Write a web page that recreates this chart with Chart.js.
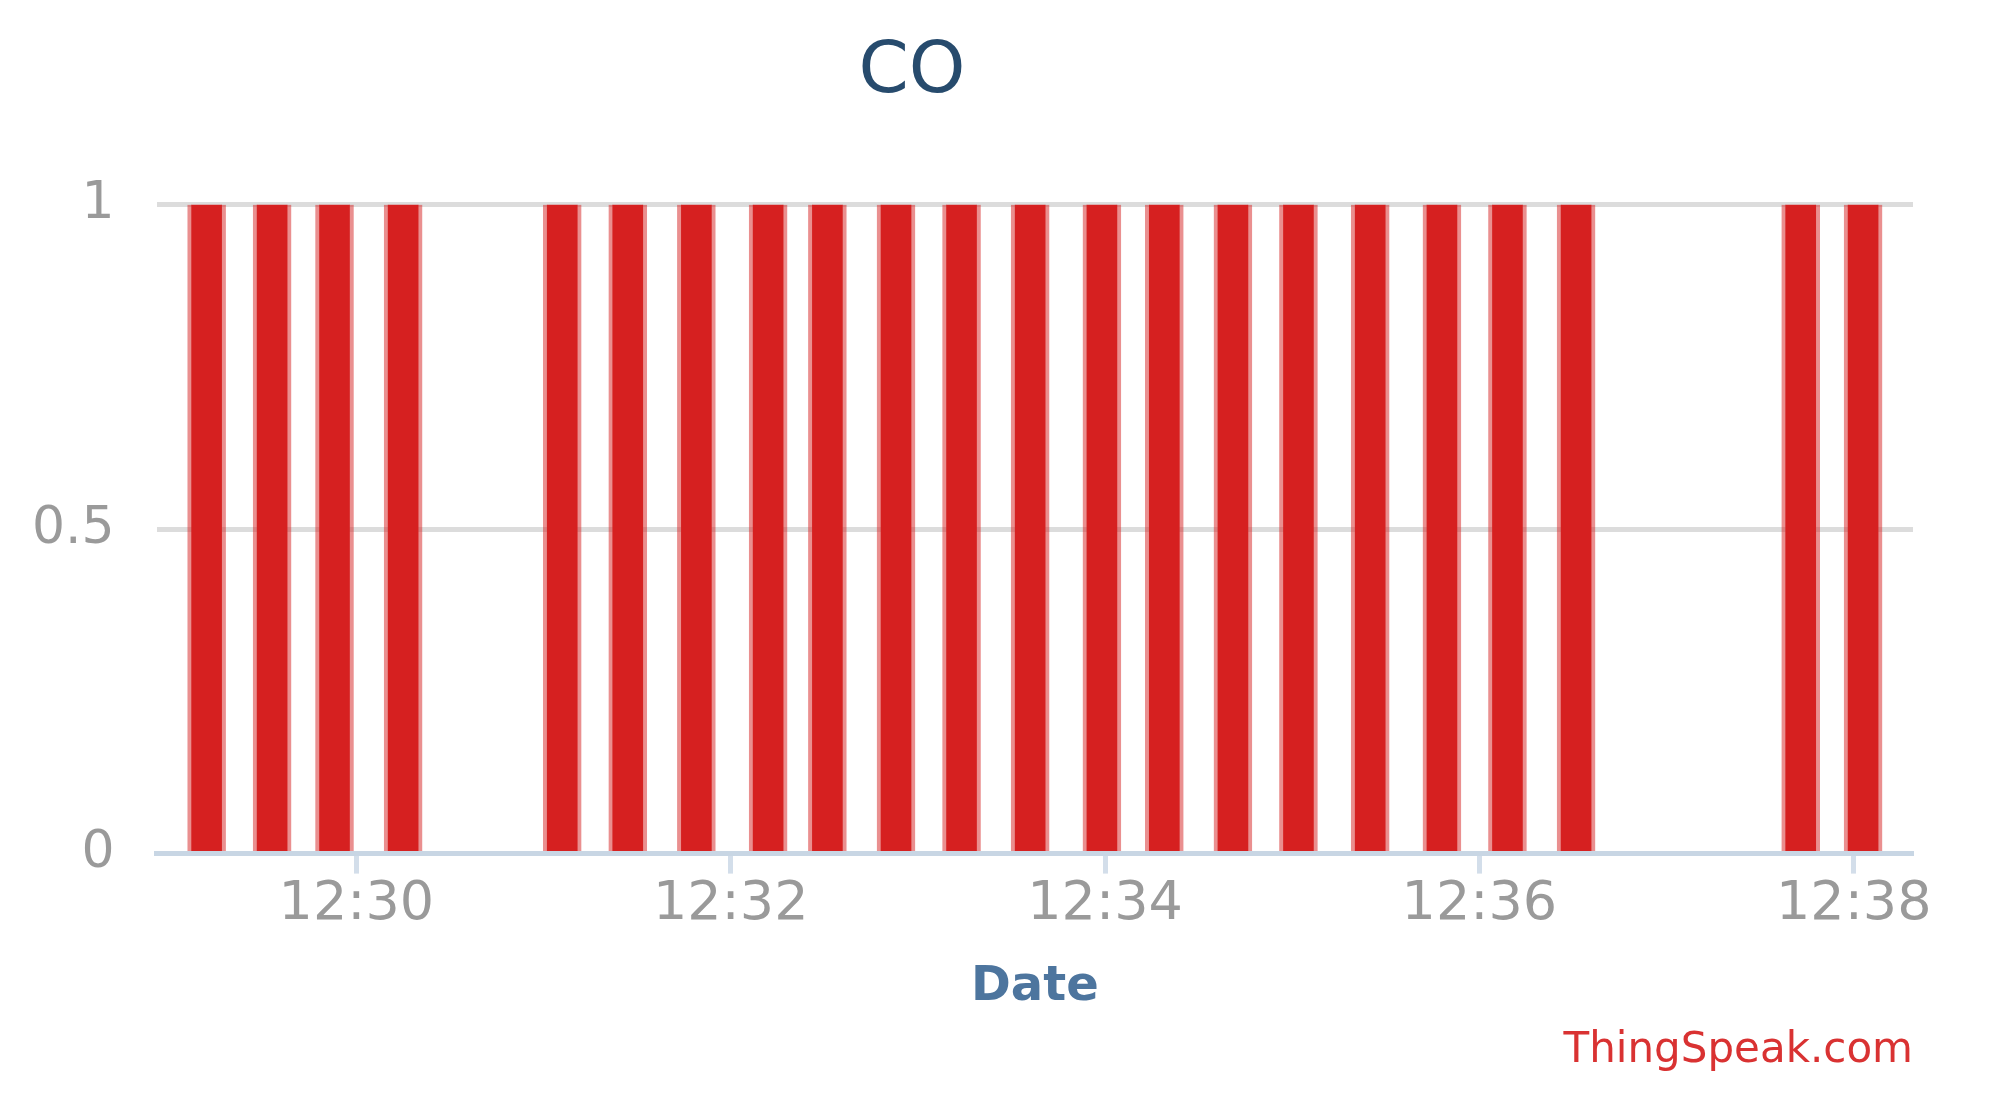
<!DOCTYPE html>
<html>
<head>
<meta charset="utf-8">
<script src="https://cdn.jsdelivr.net/npm/chart.js@4.4.1/dist/chart.umd.min.js"></script>
<style>
  html, body { margin: 0; padding: 0; background: #ffffff; }
  canvas { display: block; }
</style>
</head>
<body>
<canvas id="chart" width="2005" height="1113"></canvas>
<script>
// ---- data ----
const chartTitle = 'CO';
const xAxisTitle = 'Date';
const creditText = 'ThingSpeak.com';
const sampleTimes = [
  '12:29:12', '12:29:33', '12:29:53', '12:30:15',
  '12:31:06', '12:31:27', '12:31:49', '12:32:12', '12:32:31', '12:32:53',
  '12:33:14', '12:33:36', '12:33:59', '12:34:19', '12:34:41', '12:35:02',
  '12:35:25', '12:35:48', '12:36:09', '12:36:31',
  '12:37:43', '12:38:03'
];
const coValues = [
  1, 1, 1, 1,
  1, 1, 1, 1, 1, 1,
  1, 1, 1, 1, 1, 1,
  1, 1, 1, 1,
  1, 1
];
const xTickLabels = ['12:30', '12:32', '12:34', '12:36', '12:38'];
const xRange = ['12:28:56', '12:38:19'];
const yTickValues = [0, 0.5, 1];

// ---- helpers ----
function toSeconds(t) {
  const p = t.split(':').map(Number);
  return p[0] * 3600 + p[1] * 60 + (p[2] || 0);
}
function fmtHM(s) {
  const h = Math.floor(s / 3600);
  const m = Math.floor((s % 3600) / 60);
  return String(h).padStart(2, '0') + ':' + String(m).padStart(2, '0');
}

const points = sampleTimes.map((t, i) => ({ x: toSeconds(t), y: coValues[i] }));
const FONT = "'DejaVu Sans', 'Liberation Sans', sans-serif";

const titleShift = {
  id: 'titleShift',
  afterLayout(chart) {
    const t = chart.titleBlock;
    if (!t) return;
    const w = t.right - t.left;
    const cx = 912;
    t.left = cx - w / 2;
    t.right = cx + w / 2;
  }
};

new Chart(document.getElementById('chart'), {
  type: 'bar',
  data: {
    datasets: [{
      label: chartTitle,
      data: points,
      backgroundColor: '#d62020',
      borderColor: 'rgba(214, 32, 32, 0.5)',
      borderWidth: { left: 4, right: 4, top: 0, bottom: 0 },
      borderSkipped: false,
      barThickness: 38,
      grouped: false
    }]
  },
  plugins: [titleShift],
  options: {
    responsive: false,
    devicePixelRatio: 1,
    animation: false,
    layout: { padding: { top: 30, left: -10, right: 92, bottom: 0 } },
    plugins: {
      legend: { display: false },
      tooltip: { enabled: false },
      title: {
        display: true,
        text: chartTitle,
        color: '#274b6d',
        font: { family: FONT, size: 72, weight: 'normal', lineHeight: 1.2 },
        padding: { top: 0, bottom: 88 }
      },
      subtitle: {
        display: true,
        text: creditText,
        position: 'bottom',
        align: 'end',
        color: '#d93232',
        font: { family: FONT, size: 42, weight: 'normal', lineHeight: 1.2 },
        padding: { top: 0, bottom: 37 }
      }
    },
    scales: {
      x: {
        type: 'linear',
        min: toSeconds(xRange[0]),
        max: toSeconds(xRange[1]),
        offset: false,
        afterBuildTicks(scale) {
          scale.ticks = xTickLabels.map(l => ({ value: toSeconds(l) }));
        },
        ticks: {
          autoSkip: false,
          maxRotation: 0,
          padding: 4,
          color: '#9a9a9a',
          font: { family: FONT, size: 54, lineHeight: 1 },
          callback: (v) => fmtHM(v)
        },
        grid: {
          display: true,
          offset: false,
          drawOnChartArea: false,
          drawTicks: true,
          tickLength: 20,
          tickWidth: 5,
          tickColor: '#d3deea'
        },
        border: { display: true, color: '#c8d6e4', width: 5 },
        title: {
          display: true,
          text: xAxisTitle,
          color: '#4d759e',
          font: { family: FONT, size: 48, weight: 'bold', lineHeight: 1.25 },
          padding: { top: 22, bottom: 8 }
        }
      },
      y: {
        type: 'linear',
        min: yTickValues[0],
        max: yTickValues[yTickValues.length - 1],
        afterBuildTicks(scale) {
          scale.ticks = yTickValues.map(v => ({ value: v }));
        },
        ticks: {
          padding: 42,
          color: '#9a9a9a',
          font: { family: FONT, size: 52, lineHeight: 1 },
          callback: (v) => String(v)
        },
        grid: {
          drawTicks: false,
          lineWidth: 5,
          color: (ctx) => (ctx.tick && ctx.tick.value === 0) ? 'rgba(0,0,0,0)' : '#dcdcdc'
        },
        border: { display: false }
      }
    }
  }
});
</script>
</body>
</html>
